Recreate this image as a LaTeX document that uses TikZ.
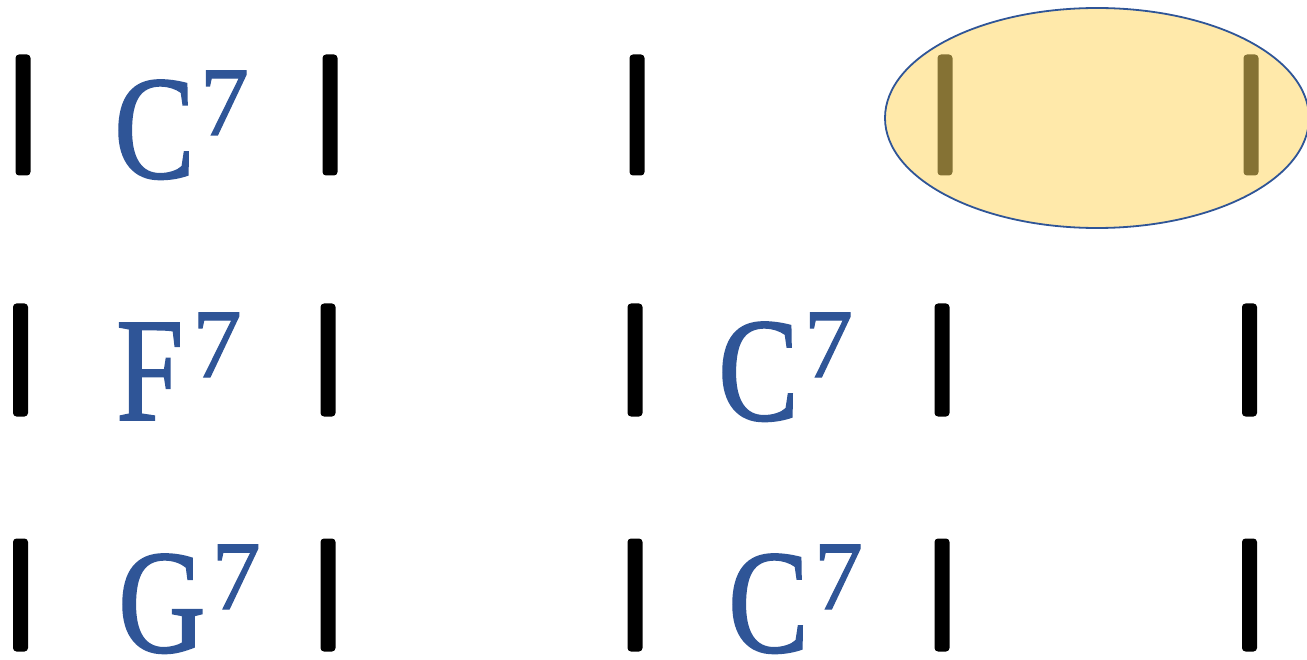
\documentclass[tikz,border=0pt]{standalone}
\usepackage{fontspec}
\usepackage{graphicx}
\setmainfont{Liberation Serif}
\newfontfamily\chordfont{Liberation Serif}[FakeBold=1.2]
\usetikzlibrary{shapes.geometric}

\definecolor{chordblue}{HTML}{2F5597}
\definecolor{hlfill}{HTML}{FFE9AA}
\definecolor{hlbar}{HTML}{857234}

% chord symbol: letter with a raised 7 (optional gap before the 7)
\newcommand{\chordsym}[2][5pt]{%
  {\chordfont\fontsize{148}{148}\selectfont\scalebox{0.82}[1]{#2}}%
  \kern #1\raisebox{43pt}{\chordfont\fontsize{98}{98}\selectfont 7}}

\tikzset{
  barline/.style={draw=none, fill=black, rounded corners=3.5pt,
    minimum width=15pt, inner sep=0pt, outer sep=0pt},
  tallbar/.style={barline, minimum height=121pt},
  shortbar/.style={barline, minimum height=113pt},
  chord/.style={text=chordblue, inner sep=0pt, outer sep=0pt, anchor=base west},
  highlight/.style={ellipse, draw=chordblue, line width=1.8pt, fill=hlfill,
    minimum width=424pt, minimum height=220pt, inner sep=0pt}
}

\begin{document}
\begin{tikzpicture}[x=1pt, y=-1pt]
\useasboundingbox (0,0) rectangle (1307,660);

% highlighted last two measures of the first line
\node[highlight] (hl) at (1097,118) {};

% first line
\node[tallbar] (b11) at (23,115) {};
\node[tallbar] (b12) at (330,115) {};
\node[tallbar] (b13) at (637,115) {};
\node[tallbar, fill=hlbar] (b14) at (945,115) {};
\node[tallbar, fill=hlbar] (b15) at (1251,115) {};
\node[chord] (c11) at (114,178) {\chordsym{C}};

% second line
\node[shortbar] (b21) at (20.5,360) {};
\node[shortbar] (b22) at (328,360) {};
\node[shortbar] (b23) at (635,360) {};
\node[shortbar] (b24) at (942,360) {};
\node[shortbar] (b25) at (1249.5,360) {};
\node[chord] (c21) at (116,420) {\chordsym[9pt]{F}};
\node[chord] (c22) at (718,420) {\chordsym{C}};

% third line
\node[shortbar] (b31) at (20.5,595) {};
\node[shortbar] (b32) at (328,595) {};
\node[shortbar] (b33) at (635,595) {};
\node[shortbar] (b34) at (942,595) {};
\node[shortbar] (b35) at (1249.5,595) {};
\node[chord] (c31) at (118,652) {\chordsym[6pt]{G}};
\node[chord] (c32) at (728,652) {\chordsym{C}};
\end{tikzpicture}
\end{document}
